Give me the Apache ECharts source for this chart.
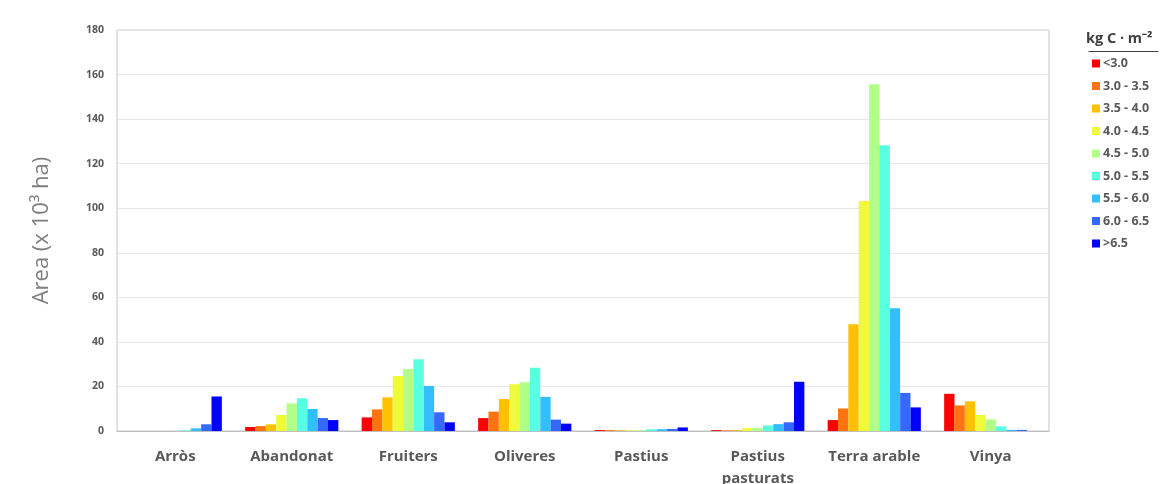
<!DOCTYPE html>
<html>
<head>
<meta charset="utf-8">
<script src="https://cdn.jsdelivr.net/npm/echarts@6/dist/echarts.min.js"></script>
<style>
  html, body { margin: 0; padding: 0; background: #ffffff; }
  #chart { width: 1162px; height: 484px; }
</style>
</head>
<body>
<div id="chart"></div>
<script>
// Land-use categories along the x axis
const categories = ['Arròs', 'Abandonat', 'Fruiters', 'Oliveres', 'Pastius', 'Pastius\npasturats', 'Terra arable', 'Vinya'];

// Soil organic carbon classes (kg C · m-2)
const classNames = ['<3.0', '3.0 - 3.5', '3.5 - 4.0', '4.0 - 4.5', '4.5 - 5.0', '5.0 - 5.5', '5.5 - 6.0', '6.0 - 6.5', '>6.5'];
const classColors = ['#ff0000', '#ff7410', '#ffc000', '#eefa3a', '#b2ff88', '#58ffe0', '#33bfff', '#3568ff', '#0000ff'];

// Area (x 10^3 ha) per class, one value per category
const cLt30   = [0,   1.8, 6.1,  5.8,  0.4, 0.4,  4.9,   16.7];
const c30_35  = [0,   2.2, 9.7,  8.7,  0.4, 0.3,  10.1,  11.5];
const c35_40  = [0,   3.0, 15.1, 14.4, 0.3, 0.4,  47.9,  13.3];
const c40_45  = [0,   7.2, 24.7, 21.0, 0.3, 1.3,  103.2, 7.2];
const c45_50  = [0,   12.4, 27.8, 21.9, 0.3, 1.3, 155.7, 5.2];
const c50_55  = [0.3, 14.7, 32.2, 28.4, 0.8, 2.5, 128.3, 2.1];
const c55_60  = [1.2, 9.9, 20.2, 15.3, 0.8, 3.1,  55.1,  0.5];
const c60_65  = [3.0, 5.8, 8.4,  5.1,  0.9, 3.9,  17.1,  0.5];
const cGt65   = [15.5, 4.9, 3.9, 3.3,  1.6, 22.1, 10.6,  0];

const classValues = [cLt30, c30_35, c35_40, c40_45, c45_50, c50_55, c55_60, c60_65, cGt65];

// Y-axis ticks
const yMin = 0, yMax = 180, yStep = 20;

const textGray = '#595959';
const chart = echarts.init(document.getElementById('chart'));

chart.setOption({
  animation: false,
  textStyle: { fontFamily: 'Open Sans, DejaVu Sans, sans-serif' },
  grid: {
    left: 117, right: 113, top: 30, bottom: 53,
    outerBoundsMode: 'none', containLabel: false,
    show: true, borderColor: '#c4c4c4', borderWidth: 1, backgroundColor: 'transparent'
  },
  legend: {
    orient: 'vertical',
    left: 1087, top: 52,
    itemWidth: 8, itemHeight: 8, itemGap: 9.5,
    icon: 'rect',
    textStyle: { color: textGray, fontWeight: 'bold', fontSize: 12.5, padding: [0, 0, 0, -2] },
    data: classNames
  },
  graphic: [
    {
      type: 'text', left: 1086, top: 31,
      style: { text: 'kg C · m⁻²', fill: '#404040', font: 'bold 14.5px "Open Sans", sans-serif' }
    },
    {
      type: 'line', left: 1086, top: 49,
      shape: { x1: 0, y1: 0, x2: 70, y2: 0 },
      style: { stroke: '#404040', lineWidth: 1 }
    }
  ],
  xAxis: {
    type: 'category',
    data: categories,
    axisTick: { show: false },
    axisLine: { lineStyle: { color: '#bfbfbf' } },
    axisLabel: { interval: 0, color: textGray, fontWeight: 'bold', fontSize: 15, margin: 15, lineHeight: 22 }
  },
  yAxis: {
    type: 'value',
    min: yMin, max: yMax, interval: yStep,
    name: 'Area (x 10³ ha)',
    nameLocation: 'middle', nameGap: 64,
    nameTextStyle: { color: '#7f7f7f', fontSize: 22 },
    axisLine: { show: false },
    axisTick: { show: false },
    axisLabel: { color: textGray, fontWeight: 'bold', fontSize: 10.5, margin: 13 },
    splitLine: { lineStyle: { color: '#e6e6e6' } }
  },
  series: classNames.map((name, i) => ({
    name: name,
    type: 'bar',
    data: classValues[i],
    barGap: '0%',
    barCategoryGap: '20%',
    itemStyle: { color: classColors[i] }
  }))
});
</script>
</body>
</html>
